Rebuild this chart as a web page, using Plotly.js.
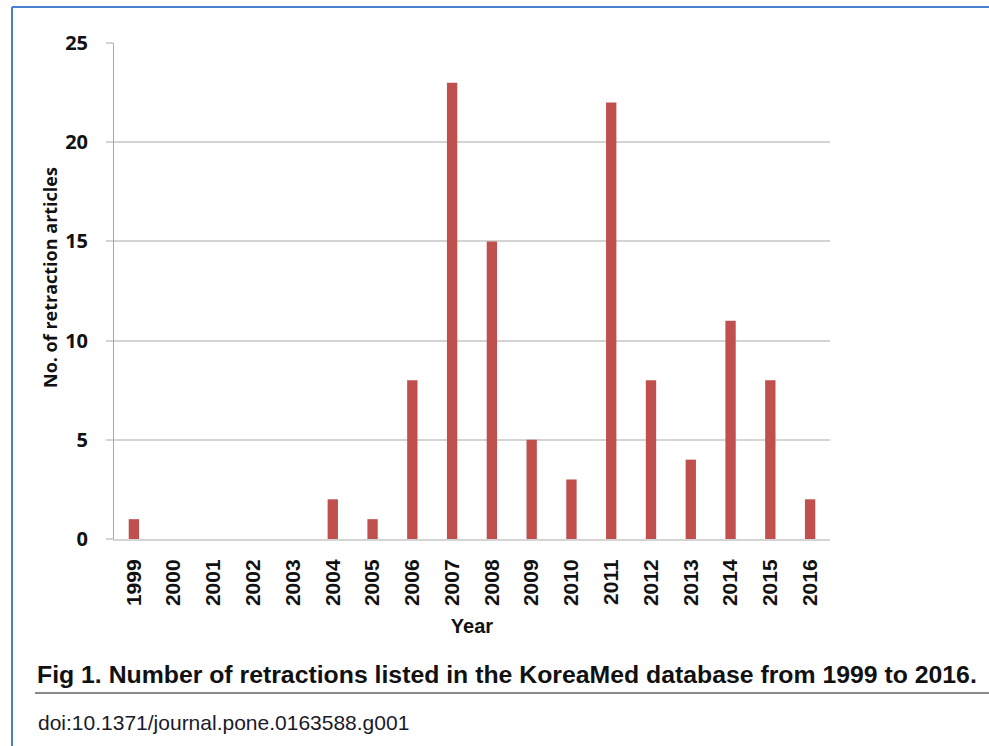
<!DOCTYPE html>
<html>
<head>
<meta charset="utf-8">
<script src="https://cdn.plot.ly/plotly-3.0.1.min.js"></script>
<style>html,body{margin:0;padding:0;background:#fff;}#chart{width:989px;height:746px;}</style>
</head>
<body>
<div id="chart"></div>
<script>
const years = ["1999","2000","2001","2002","2003","2004","2005","2006","2007","2008","2009","2010","2011","2012","2013","2014","2015","2016"];
const retractions = [1,0,0,0,0,2,1,8,23,15,5,3,22,8,4,11,8,2];
const yTicks = [0,5,10,15,20,25];
const xTitle = "Year";
const yTitle = "No. of retraction articles";
const caption = "Fig 1. Number of retractions listed in the KoreaMed database from 1999 to 2016.";
const doiText = "doi:10.1371/journal.pone.0163588.g001";

const W = 989, H = 746;
const px = v => v / W, py = v => 1 - v / H;

const trace = {
  type: 'bar', x: years, y: retractions,
  marker: {color: '#c0504d'},
  hoverinfo: 'x+y'
};

const layout = {
  width: W, height: H,
  margin: {l:0, r:0, t:0, b:0},
  paper_bgcolor: '#fff', plot_bgcolor: '#fff',
  showlegend: false,
  bargap: 0.74,
  xaxis: {
    type: 'category',
    domain: [px(114), px(830)],
    tickangle: -90,
    tickfont: {family: 'Liberation Sans, Arial, sans-serif', size: 21, color: '#111', weight: 'bold'},
    showline: true, linecolor: '#d4d4d4', linewidth: 2,
    ticks: '', ticklabelstandoff: 10,
    showgrid: false,
    title: {text: xTitle, font: {family: 'Liberation Sans, Arial, sans-serif', size: 20, color: '#111', weight: 'bold'}, standoff: 14},
    fixedrange: true
  },
  yaxis: {
    domain: [py(539), py(43)],
    range: [0, 25],
    tickvals: yTicks,
    tickfont: {family: 'Open Sans, sans-serif', size: 20, color: '#111', weight: 'bold'},
    showgrid: true, gridcolor: '#d4d4d4', gridwidth: 2,
    ticks: 'outside', ticklen: 7, tickcolor: '#d4d4d4', tickwidth: 2,
    ticklabelstandoff: 14,
    showline: true, linecolor: '#a8a8a8', linewidth: 1,
    zeroline: false,
    fixedrange: true
  },
  shapes: [
    {type:'line', xref:'paper', yref:'paper', x0:px(12), x1:1, y0:py(7), y1:py(7), line:{color:'#4a7fd0', width:2}},
    {type:'line', xref:'paper', yref:'paper', x0:px(12), x1:px(12), y0:py(7), y1:0, line:{color:'#4a7fd0', width:2}},
    {type:'line', xref:'paper', yref:'paper', x0:px(35), x1:1, y0:py(693), y1:py(693), line:{color:'#8a8a8a', width:2}}
  ],
  annotations: [
    {text: yTitle, xref:'paper', yref:'paper', x: px(50), y: py(278), xanchor:'center', yanchor:'middle', textangle:-90, showarrow:false,
     font:{family:'Open Sans, sans-serif', size:18, color:'#111', weight:'bold'}},
    {text: caption, xref:'paper', yref:'paper', x: px(35), y: py(674), xanchor:'left', yanchor:'middle', showarrow:false,
     font:{family:'Liberation Sans, Arial, sans-serif', size:24.8, color:'#111', weight:'bold'}},
    {text: doiText, xref:'paper', yref:'paper', x: px(36), y: py(722), xanchor:'left', yanchor:'middle', showarrow:false,
     font:{family:'Liberation Sans Narrow, Arial Narrow, Liberation Sans, sans-serif', size:21, color:'#1a1a2a'}}
  ]
};

Plotly.newPlot('chart', [trace], layout, {displayModeBar: false, staticPlot: true});
</script>
</body>
</html>
